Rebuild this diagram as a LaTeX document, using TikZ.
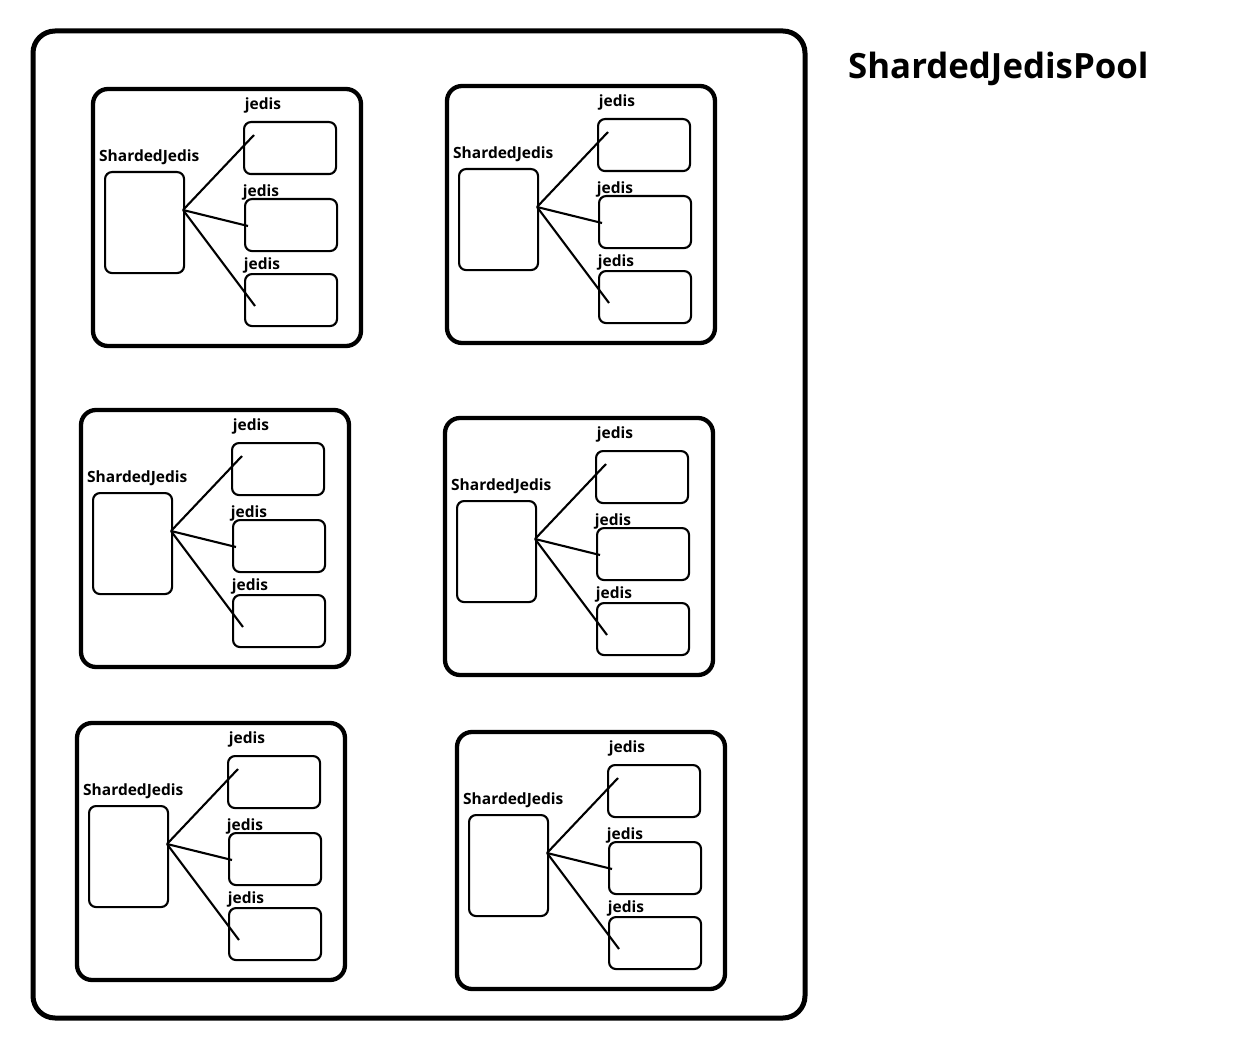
\documentclass[tikz,border=0pt]{standalone}
\usepackage{fontspec}
\setmainfont{Open Sans}
\begin{document}
\begin{tikzpicture}[x=1pt,y=-1pt,
  frame/.style={draw,line width=5,rounded corners=22},
  grp/.style={draw,line width=4.3,rounded corners=15},
  sjbox/.style={draw,line width=2.1,rounded corners=7,minimum width=79,minimum height=101,inner sep=0,anchor=north west},
  jbox/.style={draw,line width=2.1,rounded corners=7,minimum width=92,minimum height=52,inner sep=0,anchor=north west},
  lbl/.style={font=\bfseries\fontsize{15.5}{16}\selectfont,inner sep=0},
  link/.style={line width=2.1}]
\useasboundingbox (0,0) rectangle (1254,1038);
\draw[frame] (33,31) rectangle (805,1018);
\node[font=\bfseries\fontsize{34.8}{38}\selectfont,anchor=west,inner sep=0] (title) at (848,69) {ShardedJedisPool};
\foreach \i/\x/\y in {1/93/89,2/447/86,3/81/410,4/445/418,5/77/723,6/457/732}{
  \begin{scope}[shift={(\x,\y)}]
    \draw[grp] (0,0) rectangle (268,257);
    \node[sjbox] (sj\i) at (11,82) {};
    \node[lbl,anchor=west] (sjl\i) at (6,68) {ShardedJedis};
    \node[jbox] (ja\i) at (150,32) {};
    \node[jbox] (jb\i) at (151,109) {};
    \node[jbox] (jc\i) at (151,184) {};
    \node[lbl] (jal\i) at (170,16) {jedis};
    \node[lbl] (jbl\i) at (168,103) {jedis};
    \node[lbl] (jcl\i) at (169,176) {jedis};
    \coordinate (o\i) at (90,121);
    \coordinate (ea\i) at (161,46);
    \coordinate (eb\i) at (155,137);
    \coordinate (ec\i) at (162,217);
    \draw[link] (o\i) -- (ea\i);
    \draw[link] (o\i) -- (eb\i);
    \draw[link] (o\i) -- (ec\i);
  \end{scope}
}
\end{tikzpicture}
\end{document}
